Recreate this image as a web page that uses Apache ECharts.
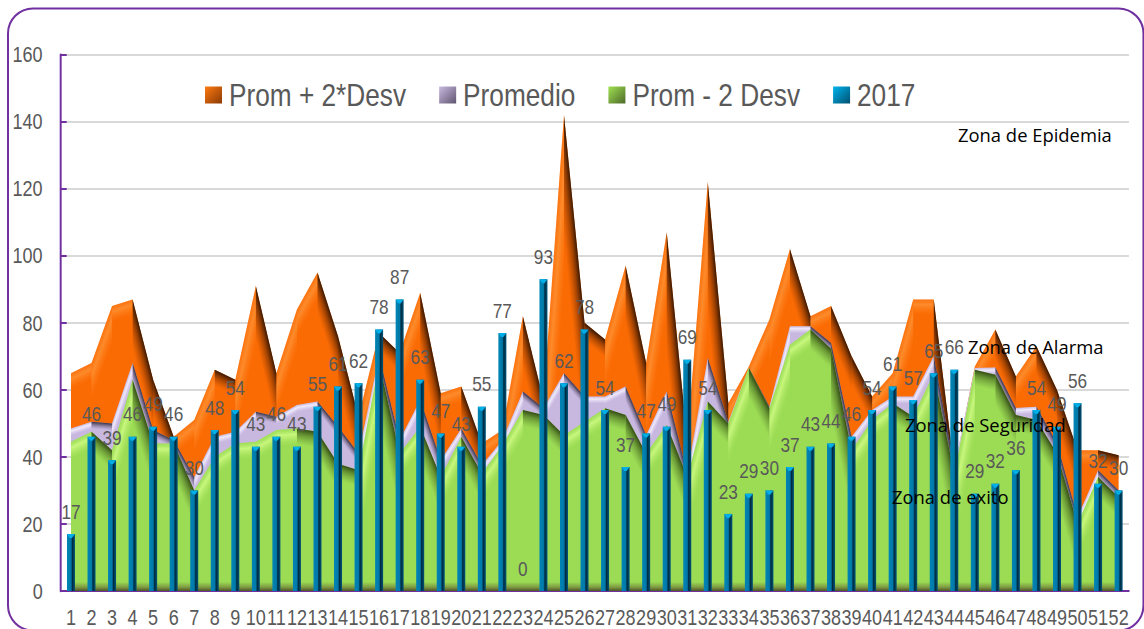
<!DOCTYPE html>
<html>
<head>
<meta charset="utf-8">
<style>
  html, body { margin: 0; padding: 0; background: #fff; overflow: hidden; }
  #wrap { width: 1144px; height: 629px; overflow: hidden; }
  /* el original tiene la letra condensada: se dibuja ancho y se comprime en X */
  #chart { width: 1395.12px; height: 629px; transform: scaleX(0.82); transform-origin: 0 0; }
</style>
</head>
<body>
<div id="wrap"><div id="chart"></div></div>
<script src="https://cdn.jsdelivr.net/npm/echarts@6/dist/echarts.min.js"></script>
<script>
var weeks = ['1','2','3','4','5','6','7','8','9','10','11','12','13','14','15','16','17','18','19','20','21','22','23','24','25','26','27','28','29','30','31','32','33','34','35','36','37','38','39','40','41','42','43','44','45','46','47','48','49','50','51','52']
var promMas = [65,68,85,87,63,46,51,66,63,91,65,84,95,76,52,77,71,89,59,61,44,48,82,57,142,80,75,97,68,107,45,122,56,67,81,102,82,85,70,58,65,87,87,36,67,78,64,73,60,42,42,40.5]
var promedio = [48.5,50.5,50,68,48,45,34,46,47.5,53.5,52,55.5,56.5,49,41,70,45,57,39,48.5,37.5,45,59.5,54.5,65,58,58,61,46.5,59.5,35,69.5,50.5,66.5,55,79,79,74,46,54,58,58,70,37,66.5,66.7,54.6,55,44,22,36,30]
var promMenos = [44.5,47.5,42,63,44,44,30,40,44,44.5,48,48.5,47.5,38,36,68,41,49,34,46,35,43.5,54,52.5,46.5,50.5,54.5,52.5,41,49.5,34,56.5,50,66.5,54.5,73.5,78,72.3,42,51,56,52,65,35,66,64.5,52.5,51,41,20,34,28]
var casos2017 = [17,46,39,46,49,46,30,48,54,43,46,43,55,61,62,78,87,63,47,43,55,77,0,93,62,78,54,37,47,49,69,54,23,29,30,37,43,44,46,54,61,57,65,66,29,32,36,54,49,56,32,30]
var yTicks = { min: 0, max: 160, interval: 20 }
var zonas = [
  { text: 'Zona de Epidemia', x: 958, y: 135 },
  { text: 'Zona de Alarma', x: 968, y: 347 },
  { text: 'Zona de Seguridad', x: 905, y: 425 },
  { text: 'Zona de exito', x: 892, y: 497 }
]

var K = 0.82 // compresion horizontal del div
var sans = '"Liberation Sans", Arial, sans-serif'
var grey = '#595959'
var LG = echarts.graphic.LinearGradient

function areaSerie(name, values, color, z) {
  return {
    name: name,
    type: 'line',
    data: values,
    z: z,
    symbol: 'none',
    silent: true,
    lineStyle: { width: 0 },
    itemStyle: { color: color },
    areaStyle: { color: color, opacity: 1 }
  }
}

// bisel de cada tramo: oscuro si baja, claro si sube
function bevelSerie(values, ancho, dark, light, z) {
  var datos = values.slice(0, -1).map(function(v, i) { return [i, v, values[i + 1]] })
  return {
    type: 'custom',
    z: z,
    silent: true,
    clip: false,
    data: datos,
    encode: { x: 0, y: 1 },
    renderItem: function(params, api) {
      var i = api.value(0)
      var a = api.coord([i, api.value(1)])
      var b = api.coord([i + 1, api.value(2)])
      var base = api.coord([i, 0])[1]
      var dx = b[0] - a[0]
      var dy = b[1] - a[1]
      var len = Math.sqrt(dx * dx + dy * dy)
      var nx = -dy / len
      var ny = dx / len
      var d = ancho * len / dx
      var mx = (a[0] + b[0]) / 2
      var my = (a[1] + b[1]) / 2
      var tono = dy > 0 ? dark : light
      var fill = new LG(mx, my, mx + nx * ancho, my + ny * ancho, tono, true)
      return {
        type: 'polygon',
        shape: { points: [a, b, [b[0], Math.min(b[1] + d, base)], [a[0], Math.min(a[1] + d, base)]] },
        style: { fill: fill }
      }
    }
  }
}

function stops(c0, c1, c2) {
  return [{ offset: 0, color: c0 }, { offset: 0.35, color: c1 }, { offset: 1, color: c2 }]
}

var barFill = new LG(0, 0, 1, 0, [
  { offset: 0, color: '#0085b5' },
  { offset: 0.5, color: '#0079a8' },
  { offset: 0.68, color: '#002a40' },
  { offset: 1, color: '#00577c' }
])

var chart = echarts.init(document.getElementById('chart'), null, { renderer: 'svg' })
chart.setOption({
  animation: false,
  backgroundColor: '#fff',
  textStyle: { fontFamily: sans },
  grid: { left: 60.7 / K, right: 15 / K, top: 54.7, bottom: 38, containLabel: false },
  legend: {
    left: 205 / K,
    top: 79,
    padding: 0,
    itemWidth: 17 / K,
    itemHeight: 17,
    itemGap: 33 / K,
    icon: 'rect',
    textStyle: { fontFamily: sans, fontSize: 32, color: grey, padding: [0, 0, 0, 3.5] },
    data: [
      { name: 'Prom + 2*Desv', itemStyle: { color: new LG(0, 0, 1, 1, [{ offset: 0, color: '#ff7a10' }, { offset: 1, color: '#8a3a05' }]) } },
      { name: 'Promedio', itemStyle: { color: new LG(0, 0, 1, 1, [{ offset: 0, color: '#c9b9e0' }, { offset: 1, color: '#5f5570' }]) } },
      { name: 'Prom - 2 Desv', itemStyle: { color: new LG(0, 0, 1, 1, [{ offset: 0, color: '#9fe050' }, { offset: 1, color: '#4d6a2a' }]) } },
      { name: '2017', itemStyle: { color: new LG(0, 0, 1, 1, [{ offset: 0, color: '#00b4ee' }, { offset: 1, color: '#00506f' }]) } }
    ]
  },
  xAxis: {
    type: 'category',
    data: weeks,
    boundaryGap: true,
    axisLine: { lineStyle: { color: '#7030a0', width: 2 } },
    axisTick: { alignWithLabel: false, length: 6, lineStyle: { color: '#7030a0', width: 1.8 } },
    axisLabel: { interval: 0, fontFamily: sans, fontSize: 22, color: grey, margin: 15, hideOverlap: false }
  },
  yAxis: {
    type: 'value',
    min: yTicks.min,
    max: yTicks.max,
    interval: yTicks.interval,
    axisLine: { show: true, lineStyle: { color: '#7030a0', width: 2.4 } },
    axisTick: { show: true, inside: true, length: 6 / K, lineStyle: { color: '#7030a0', width: 2 } },
    axisLabel: { fontFamily: sans, fontSize: 22, color: grey, margin: 22 },
    splitLine: { lineStyle: { color: '#d9d9d9', width: 2 } }
  },
  series: [
    areaSerie('Prom + 2*Desv', promMas, '#fb6b04', 2),
    bevelSerie(promMas, 15, stops('rgba(45,20,5,0.95)', 'rgba(90,35,0,0.6)', 'rgba(150,60,0,0)'), stops('rgba(255,150,60,0.2)', 'rgba(255,160,70,0.6)', 'rgba(255,140,40,0)'), 3),
    areaSerie('Promedio', promedio, '#c8b8e0', 4),
    bevelSerie(promedio, 7, stops('rgba(45,40,60,0.95)', 'rgba(70,60,85,0.6)', 'rgba(110,95,130,0)'), stops('rgba(220,210,235,0.3)', 'rgba(245,240,255,0.9)', 'rgba(230,220,245,0)'), 5),
    areaSerie('Prom - 2 Desv', promMenos, new LG(0, 0, 0, 1, [
      { offset: 0, color: '#9cdc55' },
      { offset: 0.965, color: '#9cdc55' },
      { offset: 0.985, color: '#7f9c42' },
      { offset: 1, color: '#4e5526' }
    ]), 6),
    bevelSerie(promMenos, 16, stops('rgba(40,60,15,0.9)', 'rgba(60,90,25,0.55)', 'rgba(90,130,40,0)'), stops('rgba(170,230,100,0.3)', 'rgba(205,250,130,0.9)', 'rgba(180,235,100,0)'), 7),
    {
      name: '2017',
      type: 'bar',
      z: 10,
      data: casos2017,
      barWidth: 8 / K,
      silent: true,
      itemStyle: { color: barFill },
      label: { show: true, position: 'top', distance: 12, fontFamily: sans, fontSize: 21, color: grey }
    },
    {
      // tapa superior de cada barra
      type: 'custom',
      z: 11,
      silent: true,
      data: casos2017.map(function(v, i) { return [i, v] }),
      encode: { x: 0, y: 1 },
      renderItem: function(params, api) {
        var v = api.value(1)
        if (!v) return null
        var p = api.coord([api.value(0), v])
        var h = 4 / K
        return {
          type: 'polygon',
          shape: { points: [[p[0] - h, p[1]], [p[0] + h, p[1]], [p[0] + h / 4, p[1] + 4], [p[0] - h / 3, p[1] + 4]] },
          style: { fill: '#00aee8' }
        }
      }
    }
  ],
  graphic: [
    {
      type: 'rect',
      silent: true,
      z: 100,
      x: 8 / K,
      y: 8.5,
      scaleX: 1 / K,
      shape: { x: 0, y: 0, width: 1135, height: 622, r: 25 },
      style: { fill: 'none', stroke: '#7030a0', lineWidth: 2 }
    }
  ].concat(zonas.map(function(z) {
    return {
      type: 'text',
      z: 100,
      silent: true,
      x: z.x / K,
      y: z.y,
      scaleX: 1 / K,
      style: { text: z.text, fontFamily: '"Open Sans", sans-serif', fontSize: 18.4, fill: '#000', textVerticalAlign: 'middle' }
    }
  }))
})
</script>
</body>
</html>
